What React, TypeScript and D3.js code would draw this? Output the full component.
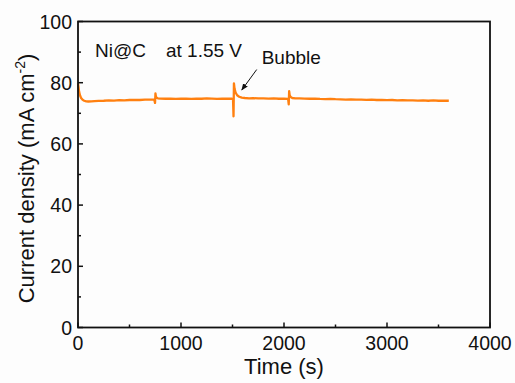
import React from "react";
import * as d3 from "d3";

// Chronoamperometry of Ni@C held at 1.55 V
const timeS: number[] = [
  0, 5, 10, 20, 30, 45, 60, 80, 100, 130, 160, 200, 250, 300, 350, 400, 450, 500,
  550, 600, 650, 700, 740, 748, 752, 756, 762, 775, 800, 850, 900, 950, 1000, 1050,
  1100, 1150, 1200, 1250, 1300, 1350, 1400, 1450, 1490, 1505, 1510, 1514, 1520, 1530,
  1545, 1565, 1590, 1620, 1660, 1700, 1750, 1800, 1850, 1900, 1950, 2000, 2040, 2046,
  2050, 2055, 2065, 2080, 2110, 2150, 2200, 2250, 2300, 2350, 2400, 2450, 2500, 2550,
  2600, 2650, 2700, 2750, 2800, 2850, 2900, 2950, 3000, 3050, 3100, 3150, 3200, 3250,
  3300, 3350, 3400, 3450, 3500, 3550, 3600,
];
const currentDensity: number[] = [
  79.8, 78.6, 77.2, 75.8, 75.0, 74.4, 74.1, 73.9, 73.85, 73.9, 74.0, 74.05, 74.1, 74.2,
  74.15, 74.3, 74.25, 74.35, 74.4, 74.35, 74.5, 74.45, 74.5, 73.4, 76.5, 75.6, 75.1, 74.9,
  74.8, 74.75, 74.8, 74.7, 74.75, 74.8, 74.7, 74.8, 74.75, 74.85, 74.8, 74.7, 74.8, 74.75,
  74.8, 74.6, 69.0, 79.8, 78.0, 76.8, 75.9, 75.4, 75.1, 75.0, 74.9, 74.95, 74.85, 74.9,
  74.8, 74.85, 74.75, 74.8, 74.7, 72.9, 77.2, 75.9, 75.3, 75.0, 74.9, 74.85, 74.8, 74.75,
  74.8, 74.7, 74.65, 74.7, 74.6, 74.55, 74.5, 74.55, 74.45, 74.5, 74.4, 74.45, 74.35, 74.4,
  74.3, 74.35, 74.25, 74.3, 74.2, 74.25, 74.15, 74.2, 74.1, 74.2, 74.1, 74.15, 74.1,
];

const xTicks: number[] = [0, 1000, 2000, 3000, 4000];
const xMinorTicks: number[] = [500, 1500, 2500, 3500];
const yTicks: number[] = [0, 20, 40, 60, 80, 100];
const yMinorTicks: number[] = [10, 30, 50, 70, 90];

const W = 515;
const H = 383;
const margin = { left: 78, right: 25, top: 21.5, bottom: 55.5 };
const FONT = "'Liberation Sans', Arial, Helvetica, sans-serif";
const LINE_COLOR = "#ff8010";

export default function App() {
  const x = d3.scaleLinear().domain([0, 4000]).range([margin.left, W - margin.right]);
  const y = d3.scaleLinear().domain([0, 100]).range([H - margin.bottom, margin.top]);

  const pts: [number, number][] = timeS.map((t, i) => [t, currentDensity[i]]);
  const path = d3
    .line<[number, number]>()
    .x((d) => x(d[0]))
    .y((d) => y(d[1]))(pts) as string;

  const [x0, x1] = x.range();
  const [y0, y1] = y.range();

  // annotation anchors in data space
  const arrowTip: [number, number] = [1590, 77.6];
  const arrowTail: [number, number] = [1735, 84.3];

  return (
    <svg
      width={W}
      height={H}
      style={{ position: "absolute", left: 0, top: 0, background: "#fdfdfd" }}
      fontFamily={FONT}
    >
      <defs>
        <marker
          id="arrowHead"
          viewBox="0 0 10 10"
          refX="9"
          refY="5"
          markerWidth="7"
          markerHeight="7"
          orient="auto"
        >
          <path d="M0,1 L10,5 L0,9 z" fill="#111" />
        </marker>
      </defs>

      {/* data */}
      <path d={path} fill="none" stroke={LINE_COLOR} strokeWidth={2.3} strokeLinejoin="round" />

      {/* frame */}
      <rect x={x0} y={y1} width={x1 - x0} height={y0 - y1} fill="none" stroke="#111" strokeWidth={1.8} />

      {/* x ticks */}
      {xTicks.map((t) => (
        <g key={"xt" + t}>
          <line x1={x(t)} x2={x(t)} y1={y0} y2={y0 - 5} stroke="#111" strokeWidth={1.5} />
          <text x={x(t)} y={y0 + 22} textAnchor="middle" fontSize={19.5} fill="#111">
            {t}
          </text>
        </g>
      ))}
      {xMinorTicks.map((t) => (
        <line key={"xm" + t} x1={x(t)} x2={x(t)} y1={y0} y2={y0 - 3} stroke="#111" strokeWidth={1.5} />
      ))}

      {/* y ticks */}
      {yTicks.map((v) => (
        <g key={"yt" + v}>
          <line x1={x0} x2={x0 + 5} y1={y(v)} y2={y(v)} stroke="#111" strokeWidth={1.5} />
          <text x={x0 - 6} y={y(v) + 7} textAnchor="end" fontSize={19.5} fill="#111">
            {v}
          </text>
        </g>
      ))}
      {yMinorTicks.map((v) => (
        <line key={"ym" + v} x1={x0} x2={x0 + 3} y1={y(v)} y2={y(v)} stroke="#111" strokeWidth={1.5} />
      ))}

      {/* axis titles */}
      <text x={(x0 + x1) / 2} y={374} textAnchor="middle" fontSize={22} fill="#111">
        Time (s)
      </text>
      <text
        transform={`translate(34,${(y0 + y1) / 2 + 4}) rotate(-90)`}
        textAnchor="middle"
        fontSize={22}
        fill="#111"
      >
        Current density (mA cm
        <tspan fontSize={14} dy={-9}>
          -2
        </tspan>
        <tspan dy={9}>)</tspan>
      </text>

      {/* labels */}
      <text x={x(165)} y={y(88.3)} fontSize={19} fill="#111">
        Ni@C
      </text>
      <text x={x(854)} y={y(88.3)} fontSize={19} fill="#111">
        at 1.55 V
      </text>
      <text x={x(1783)} y={y(86)} fontSize={19} fill="#111">
        Bubble
      </text>
      <line
        x1={x(arrowTail[0])}
        y1={y(arrowTail[1])}
        x2={x(arrowTip[0])}
        y2={y(arrowTip[1])}
        stroke="#111"
        strokeWidth={1}
        markerEnd="url(#arrowHead)"
      />
    </svg>
  );
}
